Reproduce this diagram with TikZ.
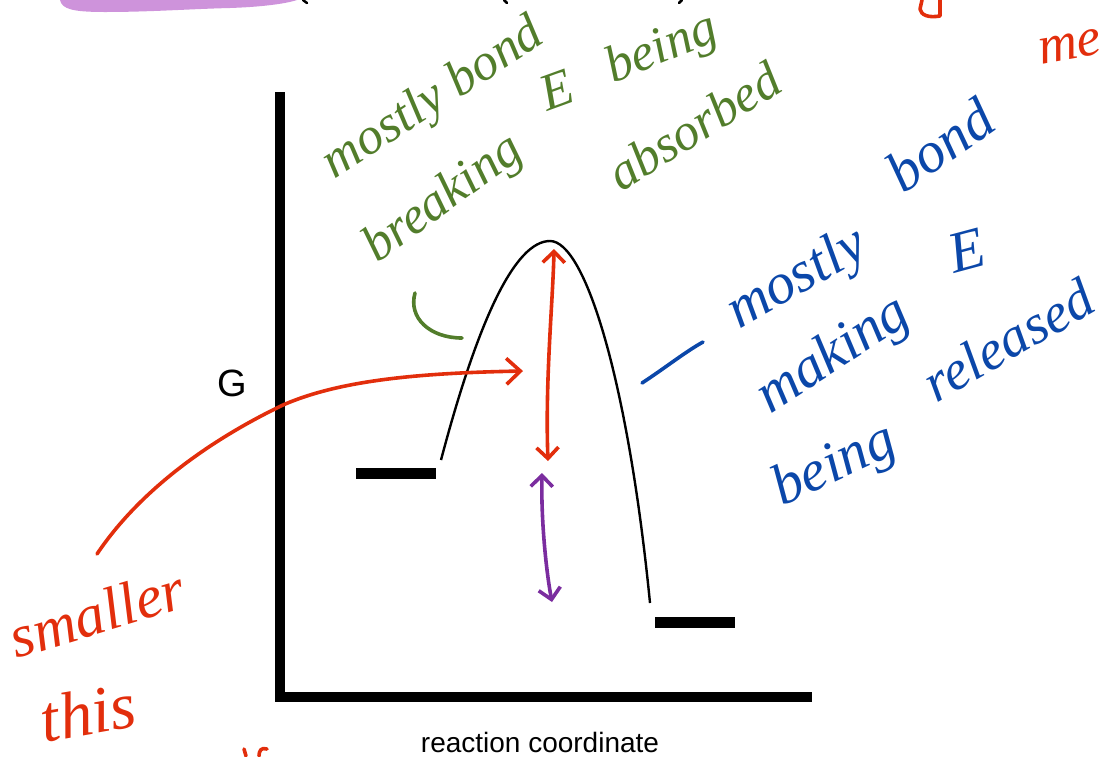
\documentclass[tikz,border=0pt]{standalone}
\usepackage{fontspec}
\setmainfont{Liberation Sans}
\newfontfamily\handfont{Liberation Serif}
\usetikzlibrary{arrows.meta}
\definecolor{inkGreen}{HTML}{527D2B}
\definecolor{inkBlue}{HTML}{0B47A9}
\definecolor{inkRed}{HTML}{E22E0C}
\definecolor{inkPurple}{HTML}{7B2D9F}
\definecolor{blobFill}{HTML}{CE93DB}

\begin{document}
\begin{tikzpicture}[
    x=1pt, y=-1pt,
    axis/.style={line width=10.5pt},
    level/.style={line width=11pt},
    curve/.style={line width=2.4pt},
    hand/.style={inner sep=0pt, font={\handfont\itshape\fontsize{#1}{#1}\selectfont}},
    hand/.default=52pt,
    greenInk/.style={hand, text=inkGreen},
    blueInk/.style={hand=#1, text=inkBlue},
    blueInk/.default=58pt,
    redInk/.style={hand=#1, text=inkRed},
    redInk/.default=60pt,
    ink/.style={line width=3.6pt, line cap=round, line join=round},
    barb/.style={{Straight Barb[length=11pt,width=22pt]}-{Straight Barb[length=11pt,width=22pt]}},
  ]
  \useasboundingbox (0,0) rectangle (1107,756);

  % Axis corner and ends
  \def\axX{280}\def\axY{697}

  % LEFTOVERS ALONG THE TOP EDGE
  \fill[blobFill] (60,0) .. controls (62,9) and (72,12) .. (105,12)
    .. controls (150,12) and (190,9) .. (230,8) .. controls (260,7) and (285,4) .. (297,0) -- cycle;
  \draw[line width=2.5pt, line cap=round] (303,0) -- (307,3);
  \draw[line width=2.5pt, line cap=round] (504,0) -- (507,3);
  \draw[line width=2.5pt, line cap=round] (682,0) -- (679,3);
  \draw[ink, draw=inkRed] (922,0) -- (920,9) .. controls (921,15) and (928,18) .. (940,16) -- (940,0);

  % AXES
  \draw[axis] (\axX,92) |- (812,\axY);
  \node (gLabel) at (232,383) {\fontsize{38pt}{38pt}\selectfont G};
  \node (rcLabel) at (540,742) {\fontsize{28pt}{28pt}\selectfont reaction coordinate};

  % ENERGY LEVELS AND BARRIER
  \draw[level] (356,473) -- (436,473);
  \draw[level] (655,622) -- (735,622);
  \coordinate (start) at (441,460);
  \coordinate (peak) at (550,241);
  \coordinate (finish) at (650,603);
  \draw[curve] (start) .. controls (478,320) and (515,241) .. (peak)
    .. controls (585,241) and (628,380) .. (finish);

  % DOUBLE ARROWS
  \coordinate (eaTop) at (554,249);
  \coordinate (eaBot) at (548,461);
  \draw[ink, draw=inkRed, barb] (eaBot) .. controls (545,380) and (553,300) .. (eaTop);
  \coordinate (dgTop) at (542,473);
  \coordinate (dgBot) at (552,602);
  \draw[ink, draw=inkPurple, barb] (dgTop) .. controls (541,520) and (546,570) .. (dgBot);

  % GREEN NOTE
  \node[greenInk, rotate=33] (gMostly) at (434,100) {mostly bond};
  \node[greenInk, rotate=36] (gBreaking) at (444,200) {breaking};
  \node[greenInk, rotate=20] (gE) at (557,90) {E};
  \node[greenInk, rotate=22] (gBeing) at (662,50) {being};
  \node[greenInk, rotate=32] (gAbsorbed) at (694,126) {absorbed};
  \draw[ink, draw=inkGreen] (415,293) .. controls (408,318) and (430,338) .. (462,338);

  % BLUE NOTE
  \node[blueInk, rotate=30] (bMostly) at (798,280) {mostly};
  \node[blueInk, rotate=35] (bBond) at (940,145) {bond};
  \node[blueInk, rotate=15] (bE) at (967,251) {E};
  \node[blueInk, rotate=33] (bMaking) at (834,356) {making};
  \node[blueInk, rotate=25] (bBeing) at (835,467) {being};
  \node[blueInk=56pt, rotate=30] (bReleased) at (1008,340) {released};
  \draw[ink, draw=inkBlue] (642,383) .. controls (665,368) and (685,352) .. (703,342);

  % RED NOTE
  \node[redInk, rotate=17] (rSmaller) at (97,613) {smaller};
  \node[redInk=66pt, rotate=10] (rThis) at (88,712) {this};
  \node[redInk=54pt, rotate=10] (rMe) at (1070,47) {me};
  \coordinate (tail) at (97,554);
  \coordinate (head) at (523,371);
  \draw[ink, draw=inkRed, -{Straight Barb[length=14pt,width=26pt]}] (tail)
    .. controls (140,490) and (210,440) .. (283,405)
    .. controls (340,380) and (420,373) .. (head);
  \draw[ink, draw=inkRed] (244,749) -- (246,756);
  \draw[ink, draw=inkRed] (267,749) .. controls (261,747) and (259,751) .. (259,756);

\end{tikzpicture}
\end{document}
